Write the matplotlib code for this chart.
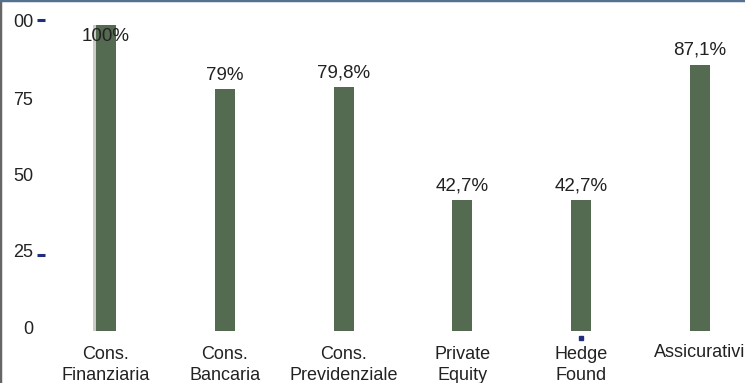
import matplotlib.pyplot as plt
import matplotlib.transforms as mtransforms

# dati
categorie = ['Cons.\nFinanziaria', 'Cons.\nBancaria', 'Cons.\nPrevidenziale',
             'Private\nEquity', 'Hedge\nFound', 'Assicurativi']
valori = [100, 79, 79.8, 42.7, 42.7, 87.1]
etichette = ['100%', '79%', '79,8%', '42,7%', '42,7%', '87,1%']
y_ticks = [0, 25, 50, 75, 100]
y_tick_labels = ['0', '25', '50', '75', '00']

plt.rcParams['font.family'] = ['Liberation Sans', 'DejaVu Sans']

fig = plt.figure(figsize=(7.45, 3.83), dpi=100)
ax = fig.add_axes([0, 0, 1, 1])

x = list(range(len(categorie)))
# striscia grigia a sinistra della prima barra
ax.bar([x[0] - 0.0965], [valori[0]], width=0.025, color='#c9ccc7', zorder=1)
ax.bar(x, valori, width=0.168, color='#556b51', zorder=2)

ax.set_xlim(-0.892, 5.379)
ax.set_ylim(-17.0, 108.2)

# etichette valori
for xi, v, lab in zip(x, valori, etichette):
    ax.text(xi, min(v + 4.6, 96.4), lab, ha='center', va='center',
            fontsize=13.5, color='#222222', zorder=3)

# etichette categorie
for xi, cat in zip(x, categorie):
    if '\n' in cat:
        ax.text(xi, -4.8, cat, ha='center', va='top', fontsize=13,
                color='#222222', linespacing=1.3)
    else:
        ax.text(xi, -7.1, cat, ha='center', va='center', fontsize=13,
                color='#222222')

# asse y disegnato dentro l'area
trans = mtransforms.blended_transform_factory(ax.transAxes, ax.transData)
for t, lab in zip(y_ticks, y_tick_labels):
    yy = t + 1.0 if t == 100 else t + 0.5
    ax.text(33 / 745, yy, lab, transform=trans, ha='right', va='center',
            fontsize=13, color='#222222')
for t in [100, 25]:
    yy = t + 1.5 if t == 100 else t
    ax.plot([37 / 745, 45 / 745], [yy, yy], transform=trans,
            color='#1f2f7a', lw=2.2, solid_capstyle='butt')

# piccolo quadratino sotto Hedge Found
ax.plot([x[4]], [-2.3], marker='s', markersize=2.5, color='#1f2f7a')

ax.set_xticks([])
ax.set_yticks([])
for s in ['right', 'bottom']:
    ax.spines[s].set_visible(False)
ax.spines['left'].set_color('#666666')
ax.spines['left'].set_linewidth(2.5)
ax.spines['top'].set_color('#56708f')
ax.spines['top'].set_linewidth(2.5)

plt.savefig('out.png', dpi=100)
